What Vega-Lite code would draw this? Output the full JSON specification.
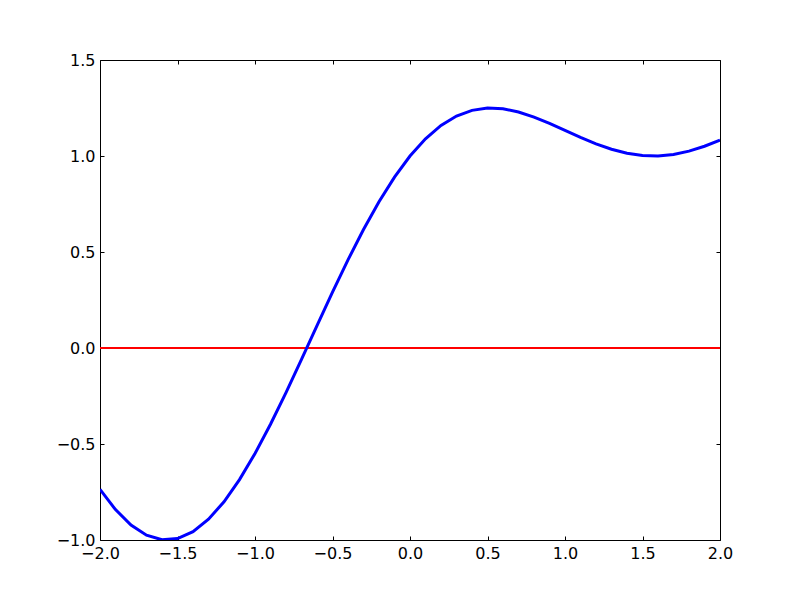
{
  "$schema": "https://vega.github.io/schema/vega-lite/v6.json",
  "width": 620,
  "height": 480,
  "autosize": {"type": "none"},
  "padding": {"left": 100, "top": 60, "right": 80, "bottom": 60},
  "background": "white",
  "config": {
    "view": {"stroke": "black", "strokeWidth": 1},
    "axis": {
      "grid": false,
      "domain": false,
      "tickColor": "black",
      "tickSize": -4,
      "tickWidth": 1,
      "labelFont": "DejaVu Sans",
      "labelFontSize": 16,
      "labelColor": "black",
      "labelFlush": false,
      "labelOverlap": false,
      "labelBound": false,
      "title": null
    }
  },
  "datasets": {
    "curve": [
      {"x": -2.0, "y": -0.73613}, {"x": -1.9, "y": -0.84178}, {"x": -1.8, "y": -0.92223},
      {"x": -1.7, "y": -0.97505}, {"x": -1.6, "y": -0.99871}, {"x": -1.5, "y": -0.99248},
      {"x": -1.4, "y": -0.95656}, {"x": -1.3, "y": -0.89201}, {"x": -1.2, "y": -0.80074},
      {"x": -1.1, "y": -0.68547}, {"x": -1.0, "y": -0.54954}, {"x": -0.9, "y": -0.39694},
      {"x": -0.8, "y": -0.23196}, {"x": -0.7, "y": -0.05924}, {"x": -0.6, "y": 0.11654},
      {"x": -0.5, "y": 0.29072}, {"x": -0.4, "y": 0.45893}, {"x": -0.3, "y": 0.61715},
      {"x": -0.2, "y": 0.76186}, {"x": -0.1, "y": 0.8902}, {"x": 0.0, "y": 1.0},
      {"x": 0.1, "y": 1.08986}, {"x": 0.2, "y": 1.1592}, {"x": 0.3, "y": 1.20819},
      {"x": 0.4, "y": 1.23777}, {"x": 0.5, "y": 1.24958}, {"x": 0.6, "y": 1.24582},
      {"x": 0.7, "y": 1.2292}, {"x": 0.8, "y": 1.20276}, {"x": 0.9, "y": 1.16972},
      {"x": 1.0, "y": 1.1334}, {"x": 1.1, "y": 1.09695}, {"x": 1.2, "y": 1.06334},
      {"x": 1.3, "y": 1.03511}, {"x": 1.4, "y": 1.01434}, {"x": 1.5, "y": 1.0025},
      {"x": 1.6, "y": 1.00043}, {"x": 1.7, "y": 1.00827}, {"x": 1.8, "y": 1.02547},
      {"x": 1.9, "y": 1.05082}, {"x": 2.0, "y": 1.08247}
    ],
    "zero": [{"x": -2.0, "y": 0}, {"x": 2.0, "y": 0}]
  },
  "layer": [
    {
      "data": {"name": "zero"},
      "mark": {"type": "line", "color": "red", "strokeWidth": 2},
      "encoding": {
        "x": {"field": "x", "type": "quantitative", "scale": {"domain": [-2, 2], "nice": false, "zero": false},
              "axis": {"orient": "top", "labels": false, "values": [-2, -1.5, -1, -0.5, 0, 0.5, 1, 1.5, 2]}},
        "y": {"field": "y", "type": "quantitative", "scale": {"domain": [-1, 1.5], "nice": false, "zero": false},
              "axis": {"orient": "right", "labels": false, "values": [-1, -0.5, 0, 0.5, 1, 1.5]}}
      }
    },
    {
      "data": {"name": "curve"},
      "mark": {"type": "line", "color": "blue", "strokeWidth": 3, "clip": true},
      "encoding": {
        "x": {"field": "x", "type": "quantitative",
              "axis": {"orient": "bottom", "values": [-2, -1.5, -1, -0.5, 0, 0.5, 1, 1.5, 2], "labelPadding": 9,
                       "labelExpr": "replace(format(datum.value, '.1f'), '-', '\u2212')"}},
        "y": {"field": "y", "type": "quantitative",
              "axis": {"orient": "left", "values": [-1, -0.5, 0, 0.5, 1, 1.5], "labelPadding": 9,
                       "labelExpr": "replace(format(datum.value, '.1f'), '-', '\u2212')"}}
      }
    }
  ],
  "resolve": {"axis": {"x": "independent", "y": "independent"}}
}
